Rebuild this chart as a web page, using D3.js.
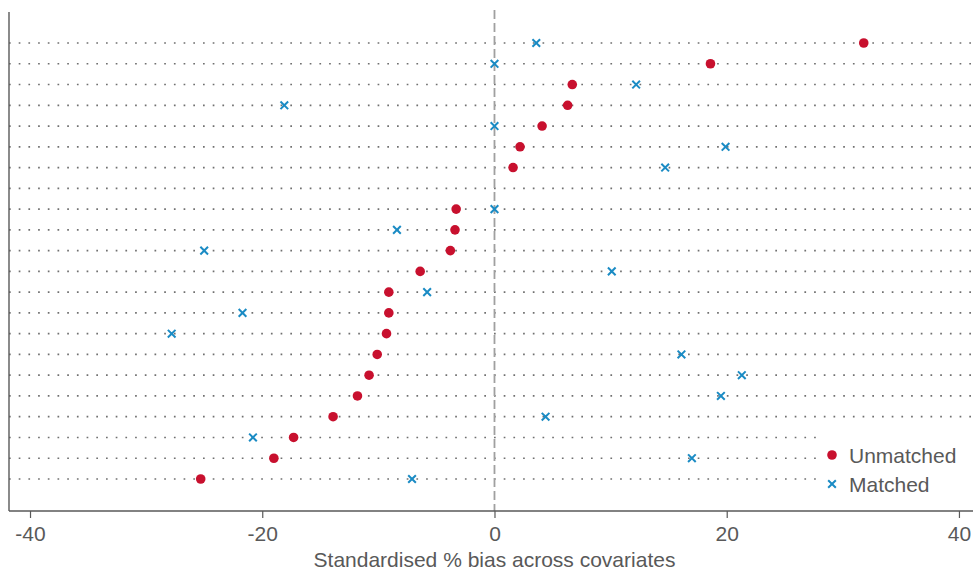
<!DOCTYPE html>
<html>
<head>
    <style>
        body { margin: 0; background: #fff; }
        text { font-family: "Liberation Sans", Arial, sans-serif; fill: #595959; }
    </style>
    <script src="https://d3js.org/d3.v7.min.js"></script>
</head>
<body>
<svg width="973" height="573"></svg>
<script>
    // one row per covariate, top to bottom
    var rows = d3.range(1, 23);
    var unmatched = [31.8, 18.6, 6.7, 6.3, 4.1, 2.2, 1.6, null, -3.3, -3.4, -3.8,
                     -6.4, -9.1, -9.1, -9.3, -10.1, -10.8, -11.8, -13.9, -17.3, -19.0, -25.3];
    var matched = [3.6, 0.0, 12.2, -18.1, 0.0, 19.9, 14.7, null, 0.0, -8.4, -25.0,
                   10.1, -5.8, -21.7, -27.8, 16.1, 21.3, 19.5, 4.4, -20.8, 17.0, -7.1];
    var xTicks = [-40, -20, 0, 20, 40];

    var svg = d3.select("svg");
    var red = "#c8102e", blue = "#1a8bc4";

    var x = d3.scaleLinear().domain([-41.81, 41.21]).range([9, 973]);
    var y = d3.scalePoint().domain(rows).range([43, 479]);

    // dotted row lines
    svg.append("g").selectAll("line")
        .data(rows).enter().append("line")
        .attr("x1", 9).attr("x2", 973)
        .attr("y1", function (d) { return y(d); })
        .attr("y2", function (d) { return y(d); })
        .attr("stroke", "#707070")
        .attr("stroke-width", 1.7)
        .attr("stroke-dasharray", "1.7 8");

    // zero reference
    svg.append("line")
        .attr("x1", x(0)).attr("x2", x(0))
        .attr("y1", 10).attr("y2", 511)
        .attr("stroke", "#a0a0a0")
        .attr("stroke-width", 1.8)
        .attr("stroke-dasharray", "9 4");

    // axes
    var xAxis = svg.append("g")
        .attr("transform", "translate(0,511)")
        .call(d3.axisBottom(x).tickValues(xTicks).tickSize(7));
    xAxis.select(".domain").remove();
    xAxis.selectAll("line").attr("stroke", "#595959").attr("stroke-width", 1.2);
    xAxis.selectAll("text").style("font-size", "21px").attr("fill", "#595959")
        .attr("y", 30).attr("dy", 0)
        .text(function (d) { return d; });

    svg.append("line").attr("x1", 9).attr("x2", 973).attr("y1", 511).attr("y2", 511)
        .attr("stroke", "#595959").attr("stroke-width", 1.4);
    svg.append("line").attr("x1", 9).attr("x2", 9).attr("y1", 12).attr("y2", 511)
        .attr("stroke", "#595959").attr("stroke-width", 1.4);

    svg.append("text")
        .attr("x", x(0)).attr("y", 567)
        .attr("text-anchor", "middle")
        .style("font-size", "21px")
        .text("Standardised % bias across covariates");

    // unmatched dots
    svg.append("g").selectAll("circle")
        .data(rows.filter(function (r, i) { return unmatched[i] !== null; }))
        .enter().append("circle")
        .attr("cx", function (d) { return x(unmatched[d - 1]); })
        .attr("cy", function (d) { return y(d); })
        .attr("r", 4.8)
        .attr("fill", red);

    // matched crosses
    var cross = d3.symbol().type(d3.symbolTimes).size(40);
    svg.append("g").selectAll("path")
        .data(rows.filter(function (r, i) { return matched[i] !== null; }))
        .enter().append("path")
        .attr("d", cross)
        .attr("transform", function (d) { return "translate(" + x(matched[d - 1]) + "," + y(d) + ")"; })
        .attr("fill", "none")
        .attr("stroke", blue)
        .attr("stroke-width", 2);

    // legend
    var lg = svg.append("g");
    lg.append("rect").attr("x", 818).attr("y", 428).attr("width", 155).attr("height", 74).attr("fill", "#fff");
    lg.append("circle").attr("cx", 832).attr("cy", 455).attr("r", 4.8).attr("fill", red);
    lg.append("path").attr("d", cross).attr("transform", "translate(832,484)")
        .attr("fill", "none").attr("stroke", blue).attr("stroke-width", 2);
    lg.append("text").attr("x", 849).attr("y", 463).style("font-size", "21px").text("Unmatched");
    lg.append("text").attr("x", 849).attr("y", 492).style("font-size", "21px").text("Matched");
</script>
</body>
</html>
